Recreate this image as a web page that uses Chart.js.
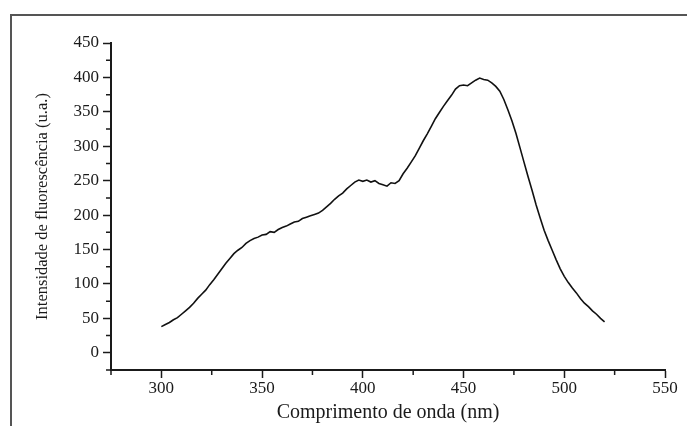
<!DOCTYPE html>
<html>
<head>
<meta charset="utf-8">
<script src="https://cdn.jsdelivr.net/npm/chart.js@4"></script>
<style>
  html, body { margin: 0; padding: 0; background: #fff; }
  canvas { display: block; }
</style>
</head>
<body>
<canvas id="spectrum" width="687" height="426"></canvas>
<script>
// wavelength (nm) and fluorescence intensity (u.a.)
const wavelengths = [
    300, 302, 304, 306, 308, 310, 312, 314, 316, 318,
    320, 322, 324, 326, 328, 330, 332, 334, 336, 338,
    340, 342, 344, 346, 348, 350, 352, 354, 356, 358,
    360, 362, 364, 366, 368, 370, 372, 374, 376, 378,
    380, 382, 384, 386, 388, 390, 392, 394, 396, 398,
    400, 402, 404, 406, 408, 410, 412, 414, 416, 418,
    420, 422, 424, 426, 428, 430, 432, 434, 436, 438,
    440, 442, 444, 446, 448, 450, 452, 454, 456, 458,
    460, 462, 464, 466, 468, 470, 472, 474, 476, 478,
    480, 482, 484, 486, 488, 490, 492, 494, 496, 498,
    500, 502, 504, 506, 508, 510, 512, 514, 516, 518,
    520
];
const intensity = [
    38, 41, 44, 48, 51, 56, 61, 66, 72, 79,
    85, 91, 99, 106, 114, 122, 130, 137, 144, 149,
    153, 159, 163, 166, 168, 171, 172, 176, 175, 179,
    182, 184, 187, 190, 191, 195, 197, 199, 201, 203,
    207, 212, 217, 223, 228, 232, 238, 243, 248, 251,
    249, 251, 248, 250, 246, 244, 242, 247, 246, 250,
    260, 268, 277, 286, 297, 308, 318, 329, 340, 349,
    358, 366, 374, 383, 388, 389, 388, 392, 396, 399,
    397, 396, 392, 387, 380, 368, 353, 337, 319, 298,
    277, 256, 236, 215, 196, 178, 163, 149, 135, 122,
    111, 102, 94, 87, 79, 72, 67, 61, 56, 50,
    45
];
const xTickLabels = [300, 350, 400, 450, 500, 550];
const yTickLabels = [0, 50, 100, 150, 200, 250, 300, 350, 400, 450];

const serif = "'Liberation Serif', 'Times New Roman', serif";
const ink = "#1a1a1a";

// page frame (top and left rules around the figure)
const framePlugin = {
    id: "frame",
    beforeDraw(chart) {
        const ctx = chart.ctx;
        ctx.save();
        ctx.fillStyle = "#fff";
        ctx.fillRect(0, 0, chart.width, chart.height);
        ctx.strokeStyle = "#555";
        ctx.lineWidth = 2;
        ctx.beginPath();
        ctx.moveTo(10, 15);
        ctx.lineTo(chart.width, 15);
        ctx.moveTo(11, 15);
        ctx.lineTo(11, chart.height);
        ctx.stroke();
        ctx.restore();
    }
};

// short minor ticks between the labelled ones
const minorTicks = {
    id: "minorTicks",
    afterDraw(chart) {
        const ctx = chart.ctx;
        const xs = chart.scales.x, ys = chart.scales.y;
        ctx.save();
        ctx.strokeStyle = ink;
        ctx.lineWidth = 1.5;
        ctx.beginPath();
        xs.ticks.forEach(t => {
            if (!xTickLabels.includes(t.value)) {
                const px = xs.getPixelForValue(t.value);
                ctx.moveTo(px, xs.top);
                ctx.lineTo(px, xs.top + 5);
            }
        });
        ys.ticks.forEach(t => {
            if (!yTickLabels.includes(t.value)) {
                const py = ys.getPixelForValue(t.value);
                ctx.moveTo(ys.right, py);
                ctx.lineTo(ys.right - 5, py);
            }
        });
        ctx.stroke();
        ctx.restore();
    }
};

const points = wavelengths.map((w, i) => ({ x: w, y: intensity[i] }));

new Chart(document.getElementById("spectrum"), {
    type: "line",
    data: {
        datasets: [{
            data: points,
            borderColor: "#111",
            borderWidth: 1.6,
            pointRadius: 0,
            tension: 0,
            fill: false
        }]
    },
    options: {
        responsive: false,
        animation: false,
        layout: { padding: { left: 0, top: 43, right: 22, bottom: 0 } },
        plugins: { legend: { display: false }, tooltip: { enabled: false } },
        scales: {
            x: {
                type: "linear",
                min: 275,
                max: 550,
                afterFit: s => { s.height = 56; },
                ticks: {
                    stepSize: 25,
                    autoSkip: false,
                    maxRotation: 0,
                    padding: 0,
                    color: ink,
                    font: { family: serif, size: 17 },
                    callback: v => xTickLabels.includes(v) ? String(v) : ""
                },
                grid: {
                    drawOnChartArea: false,
                    tickLength: 8,
                    tickWidth: 1.5,
                    tickColor: c => xTickLabels.includes(c.tick.value) ? ink : "transparent"
                },
                border: { color: ink, width: 2 },
                title: {
                    display: true,
                    text: "Comprimento de onda (nm)",
                    color: ink,
                    font: { family: serif, size: 20 },
                    padding: { top: 0, bottom: 1 }
                }
            },
            y: {
                min: -25,
                max: 450,
                afterFit: s => { s.width = 111; },
                ticks: {
                    stepSize: 25,
                    autoSkip: false,
                    padding: 4,
                    color: ink,
                    font: { family: serif, size: 17 },
                    callback: v => yTickLabels.includes(v) ? String(v) : ""
                },
                grid: {
                    drawOnChartArea: false,
                    tickLength: 8,
                    tickWidth: 1.5,
                    tickColor: c => yTickLabels.includes(c.tick.value) ? ink : "transparent"
                },
                border: { color: ink, width: 2 },
                title: {
                    display: true,
                    text: "Intensidade de fluorescência (u.a.)",
                    color: ink,
                    font: { family: serif, size: 16.5 },
                    padding: { top: 33, bottom: 0 }
                }
            }
        }
    },
    plugins: [framePlugin, minorTicks]
});
</script>
</body>
</html>
